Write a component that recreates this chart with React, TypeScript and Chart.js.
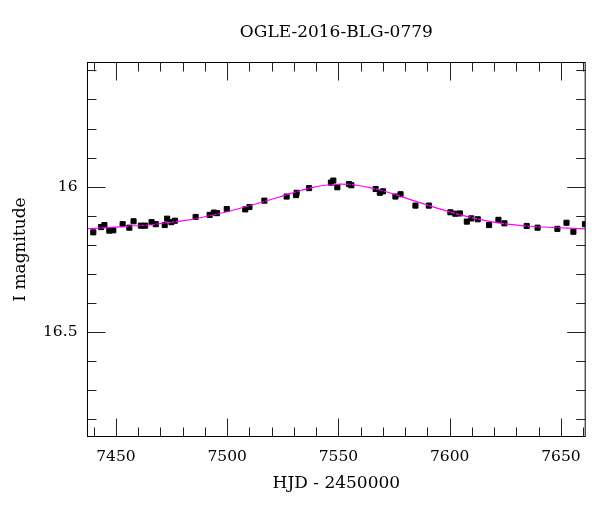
import React, { useEffect, useRef } from "react";
import { Chart, registerables } from "chart.js";

Chart.register(...registerables);

const FONT = "'DejaVu Serif', 'Liberation Serif', serif";

// Observations (HJD - 2450000, I magnitude, error)
const hjd = [7439.8, 7443.3, 7444.8, 7447.0, 7448.8, 7453.0, 7456.0, 7457.9, 7461.2, 7463.1, 7466.0, 7467.9, 7471.9, 7473.0, 7474.9, 7476.5, 7485.8, 7492.1, 7494.0, 7495.4, 7499.8, 7508.1, 7510.0, 7516.7, 7526.7, 7530.9, 7531.2, 7536.8, 7546.6, 7547.7, 7549.5, 7554.7, 7555.8, 7566.7, 7568.6, 7570.0, 7575.6, 7577.9, 7584.6, 7590.6, 7600.3, 7602.5, 7604.6, 7607.7, 7609.7, 7612.6, 7617.7, 7621.9, 7624.6, 7634.6, 7639.5, 7648.4, 7652.5, 7655.6, 7660.8];
const mag = [16.157, 16.139, 16.132, 16.151, 16.150, 16.129, 16.141, 16.119, 16.134, 16.134, 16.122, 16.129, 16.132, 16.110, 16.122, 16.117, 16.104, 16.097, 16.089, 16.091, 16.077, 16.078, 16.070, 16.048, 16.034, 16.029, 16.021, 16.005, 15.986, 15.979, 16.002, 15.991, 15.995, 16.008, 16.021, 16.016, 16.034, 16.026, 16.065, 16.065, 16.088, 16.093, 16.092, 16.120, 16.109, 16.112, 16.132, 16.114, 16.126, 16.135, 16.141, 16.145, 16.124, 16.155, 16.129];
const magErr = [0.008, 0.008, 0.008, 0.008, 0.008, 0.008, 0.008, 0.008, 0.008, 0.008, 0.008, 0.008, 0.008, 0.008, 0.008, 0.008, 0.008, 0.008, 0.008, 0.008, 0.008, 0.008, 0.008, 0.008, 0.008, 0.008, 0.008, 0.008, 0.008, 0.008, 0.008, 0.008, 0.008, 0.008, 0.008, 0.008, 0.008, 0.008, 0.008, 0.008, 0.008, 0.008, 0.008, 0.008, 0.008, 0.008, 0.008, 0.008, 0.008, 0.008, 0.008, 0.008, 0.008, 0.008, 0.008];

// Model curve
const modelHjd = [7437, 7451.5, 7466.4, 7481.3, 7496.2, 7511.2, 7526.1, 7533, 7538, 7543, 7547, 7551, 7555, 7559, 7564, 7570, 7578.3, 7593.2, 7608.1, 7623.1, 7638, 7661];
const modelMag = [16.145, 16.138, 16.130, 16.116, 16.093, 16.063, 16.029, 16.013, 16.003, 15.996, 15.993, 15.991, 15.992, 15.996, 16.003, 16.014, 16.034, 16.071, 16.103, 16.126, 16.137, 16.145];

// Axis ticks
const xTickValues = [7450, 7500, 7550, 7600, 7650];
const yTickValues = [16, 16.5];
const X_MIN = 7437.2, X_MAX = 7660.9;
const Y_MIN = 15.573, Y_MAX = 16.859;

const xMinor: number[] = [];
for (let v = 7440; v <= 7660; v += 10) xMinor.push(v);
const yMinor: number[] = [];
for (let i = 156; i <= 168; i++) yMinor.push(i / 10);

const framePlugin = {
  id: "framePlugin",
  afterDatasetsDraw(chart: any) {
    const ctx = chart.ctx;
    const xs = chart.scales.x, ys = chart.scales.y;
    const { left, right, top, bottom } = chart.chartArea;
    ctx.save();
    ctx.beginPath();
    ctx.rect(left, top, right - left, bottom - top);
    ctx.clip();
    ctx.strokeStyle = "#000";
    ctx.lineWidth = 1;
    for (let i = 0; i < hjd.length; i++) {
      const px = xs.getPixelForValue(hjd[i]);
      const y1 = ys.getPixelForValue(mag[i] - magErr[i]);
      const y2 = ys.getPixelForValue(mag[i] + magErr[i]);
      ctx.beginPath();
      ctx.moveTo(px, y1);
      ctx.lineTo(px, y2);
      ctx.stroke();
    }
    ctx.restore();
  },
  afterDraw(chart: any) {
    const ctx = chart.ctx;
    const xs = chart.scales.x, ys = chart.scales.y;
    const { left, right, top, bottom } = chart.chartArea;
    ctx.save();
    ctx.strokeStyle = "#222";
    ctx.lineWidth = 1;
    ctx.beginPath();
    xMinor.forEach((v) => {
      const px = Math.round(xs.getPixelForValue(v)) + 0.5;
      const len = xTickValues.includes(v) ? 18 : 9;
      ctx.moveTo(px, bottom);
      ctx.lineTo(px, bottom - len);
      ctx.moveTo(px, top);
      ctx.lineTo(px, top + len);
    });
    yMinor.forEach((v) => {
      const py = Math.round(ys.getPixelForValue(v)) + 0.5;
      const len = yTickValues.includes(v) ? 18 : 9;
      ctx.moveTo(left, py);
      ctx.lineTo(left + len, py);
      ctx.moveTo(right, py);
      ctx.lineTo(right - len, py);
    });
    ctx.stroke();
    ctx.strokeStyle = "#000";
    ctx.strokeRect(left, top, right - left, bottom - top);
    ctx.restore();
  },
};

export default function App() {
  const ref = useRef<HTMLCanvasElement | null>(null);
  useEffect(() => {
    if (!ref.current) return;
    const chart = new Chart(ref.current, {
      type: "scatter",
      data: {
        datasets: [
          {
            type: "line",
            label: "model",
            data: modelHjd.map((x, i) => ({ x, y: modelMag[i] })),
            borderColor: "#ff00ff",
            borderWidth: 1.2,
            pointRadius: 0,
            fill: false,
            cubicInterpolationMode: "monotone",
          } as any,
          {
            label: "OGLE",
            data: hjd.map((x, i) => ({ x, y: mag[i] })),
            pointStyle: "rect",
            pointRadius: 3.6,
            pointBorderWidth: 1,
            backgroundColor: "#000",
            borderColor: "#000",
          },
        ],
      },
      options: {
        animation: false,
        responsive: true,
        maintainAspectRatio: false,
        layout: { padding: { left: 0, right: 4.5, top: 0, bottom: 0 } },
        plugins: {
          legend: { display: false },
          tooltip: { enabled: false },
          title: {
            display: true,
            fullSize: false,
            text: "OGLE-2016-BLG-0779",
            color: "#000",
            font: { family: FONT, size: 17, weight: "normal", lineHeight: 1.2 },
            padding: { top: 14, bottom: 20.1 },
          },
        },
        scales: {
          x: {
            type: "linear",
            min: X_MIN,
            max: X_MAX,
            grid: { display: false, drawTicks: false },
            border: { display: false },
            afterBuildTicks: (s: any) => {
              s.ticks = xTickValues.map((v) => ({ value: v }));
            },
            afterFit: (s: any) => {
              s.height = 67.5;
            },
            ticks: {
              color: "#000",
              padding: 11,
              maxRotation: 0,
              font: { family: FONT, size: 15.5 },
              callback: (v: any) => String(v),
            },
            title: {
              display: true,
              text: "HJD - 2450000",
              color: "#000",
              font: { family: FONT, size: 17, lineHeight: 1.2 },
              padding: { top: 0, bottom: 10.3 },
            },
          },
          y: {
            type: "linear",
            reverse: true,
            min: Y_MIN,
            max: Y_MAX,
            grid: { display: false, drawTicks: false },
            border: { display: false },
            afterBuildTicks: (s: any) => {
              s.ticks = yTickValues.map((v) => ({ value: v }));
            },
            afterFit: (s: any) => {
              s.width = 79.5;
            },
            ticks: {
              color: "#000",
              padding: 10,
              font: { family: FONT, size: 15.5 },
              callback: (v: any) => String(v),
            },
            title: {
              display: true,
              text: "I magnitude",
              color: "#000",
              font: { family: FONT, size: 17, lineHeight: 1.2 },
              padding: { top: 2, bottom: 0 },
            },
          },
        },
      },
      plugins: [framePlugin],
    });
    return () => chart.destroy();
  }, []);
  return (
    <div style={{ position: "relative", width: 584, height: 496 }}>
      <canvas ref={ref} />
    </div>
  );
}
